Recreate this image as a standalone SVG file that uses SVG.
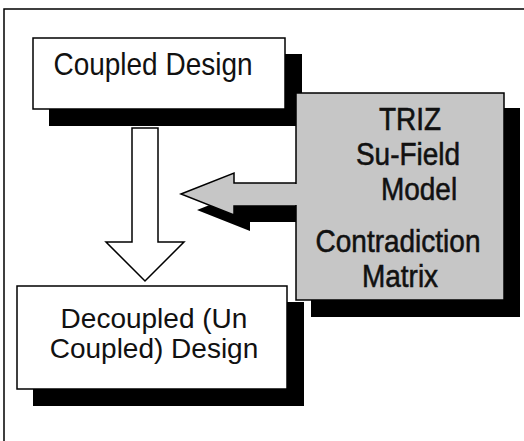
<svg xmlns="http://www.w3.org/2000/svg" width="524" height="441" viewBox="0 0 524 441">
<style>
.box{fill:#fff;stroke:#000;stroke-width:1.5}
.gray{fill:#c6c6c6;stroke:#000;stroke-width:1.5}
.shadow{fill:#000}
.t{font-family:"Liberation Sans",Arial,sans-serif;font-size:28px;fill:#111;text-anchor:middle}
.b{stroke:#111;stroke-width:0.5}
</style>
<rect width="524" height="441" fill="#fff"/>
<path d="M4,445 L4,9 L530,9" fill="none" stroke="#000" stroke-width="1.5"/>
<g id="coupled">
<rect class="shadow" x="49" y="54" width="253" height="72"/>
<rect class="box" x="33" y="38" width="252" height="71"/>
<text class="t" transform="translate(153,75) scale(1,1.15)">Coupled Design</text>
</g>
<g id="decoupled">
<rect class="shadow" x="33" y="302" width="271" height="104"/>
<rect class="box" x="17" y="286" width="270" height="103"/>
<text class="t" x="154" y="328">Decoupled (Un</text>
<text class="t" x="154" y="358">Coupled) Design</text>
</g>
<g id="connectors">
<polygon class="box" points="132,128 158,128 158,242 184,242 145,281 106,242 132,242"/>
<polygon class="shadow" points="197,210 250,189 250,199 312,199 312,222 250,222 250,231"/>
<polygon class="gray" points="181,194 234,173 234,183 300,183 300,206 234,206 234,215"/>
</g>
<g id="triz">
<rect class="shadow" x="311" y="108" width="209" height="209"/>
<rect class="gray" x="296" y="93" width="208" height="207"/>
<rect x="293" y="184" width="6" height="21" fill="#c6c6c6"/>
<text class="t b" transform="translate(410,130) scale(1,1.15)">TRIZ</text>
<text class="t b" transform="translate(408,165) scale(1,1.15)">Su-Field</text>
<text class="t b" transform="translate(419,200) scale(1,1.15)">Model</text>
<text class="t b" transform="translate(398,252) scale(1,1.15)">Contradiction</text>
<text class="t b" transform="translate(400,287) scale(1,1.15)">Matrix</text>
</g>
</svg>
